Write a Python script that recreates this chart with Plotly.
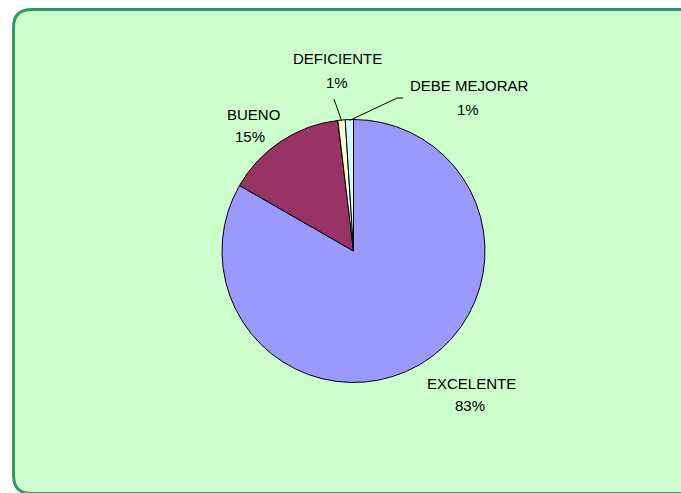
import math
import plotly.graph_objects as go

# ---- data ----
categories = ["EXCELENTE", "BUENO", "DEFICIENTE", "DEBE MEJORAR"]
values = [83.3, 14.8, 0.9, 1.0]
colors = ["#9999FF", "#993366", "#FFFFCC", "#CCFFFF"]

W, H = 681, 493
def px(x):
    return x / W
def py(y):
    return 1 - y / H

# pie geometry (pixels)
CX, CY, R = 353.5, 251.0, 131.5

fig = go.Figure()
fig.add_trace(go.Pie(
    labels=categories,
    values=values,
    sort=False,
    direction="clockwise",
    rotation=0,
    marker=dict(colors=colors, line=dict(color="black", width=1)),
    textinfo="none",
    hoverinfo="label+percent",
    showlegend=False,
    domain=dict(x=[px(CX - R), px(CX + R)], y=[py(CY + R), py(CY - R)]),
))

# rounded background frame (right/bottom edges run past the canvas)
x0, y0, x1, y1, r = 13.5, 9.5, 730, 493.5, 18
path = (
    f"M {px(x0+r)},{py(y0)} L {px(x1-r)},{py(y0)} Q {px(x1)},{py(y0)} {px(x1)},{py(y0+r)} "
    f"L {px(x1)},{py(y1-r)} Q {px(x1)},{py(y1)} {px(x1-r)},{py(y1)} "
    f"L {px(x0+r)},{py(y1)} Q {px(x0)},{py(y1)} {px(x0)},{py(y1-r)} "
    f"L {px(x0)},{py(y0+r)} Q {px(x0)},{py(y0)} {px(x0+r)},{py(y0)} Z"
)
shapes = [dict(type="path", xref="paper", yref="paper", path=path,
               fillcolor="#CCFFCC", line=dict(color="#339966", width=3), layer="below")]

total = sum(values)
def mid_point(i, rad=R):
    start = sum(values[:i])
    mid = (start + values[i] / 2) / total * 2 * math.pi
    return CX + rad * math.sin(mid), CY - rad * math.cos(mid)

# label positions (pixel centers of the two text lines)
label_pos = {
    "EXCELENTE": (472, 383, 470, 405),
    "BUENO": (253, 114, 250, 136),
    "DEFICIENTE": (337, 59, 337, 82),
    "DEBE MEJORAR": (469, 86, 468, 110),
}
font = dict(family="Liberation Sans, Arial, sans-serif", size=15, color="black")
annotations = []
for i, cat in enumerate(categories):
    lx, ly, vx, vy = label_pos[cat]
    pct = f"{round(values[i] / total * 100):d}%"
    annotations.append(dict(x=px(lx), y=py(ly), xref="paper", yref="paper", text=cat,
                            showarrow=False, font=font, xanchor="center", yanchor="middle"))
    annotations.append(dict(x=px(vx), y=py(vy), xref="paper", yref="paper", text=pct,
                            showarrow=False, font=font, xanchor="center", yanchor="middle"))

# leader lines for the small slices
hx, hy = mid_point(2, R - 1)
shapes.append(dict(type="path", xref="paper", yref="paper",
                   path=f"M {px(hx)},{py(hy)} L {px(334)},{py(99)}",
                   line=dict(color="black", width=1), layer="above"))
hx, hy = mid_point(3, R - 1)
shapes.append(dict(type="path", xref="paper", yref="paper",
                   path=f"M {px(hx)},{py(hy)} L {px(397)},{py(98)} L {px(403)},{py(98)}",
                   line=dict(color="black", width=1), layer="above"))

fig.update_layout(
    width=W, height=H,
    margin=dict(l=0, r=0, t=0, b=0),
    paper_bgcolor="white",
    plot_bgcolor="rgba(0,0,0,0)",
    shapes=shapes,
    annotations=annotations,
)
fig.write_html(
    "out.html",
    config={"displayModeBar": False},
    post_script="document.body.style.margin='0';document.body.style.overflow='hidden';",
)
